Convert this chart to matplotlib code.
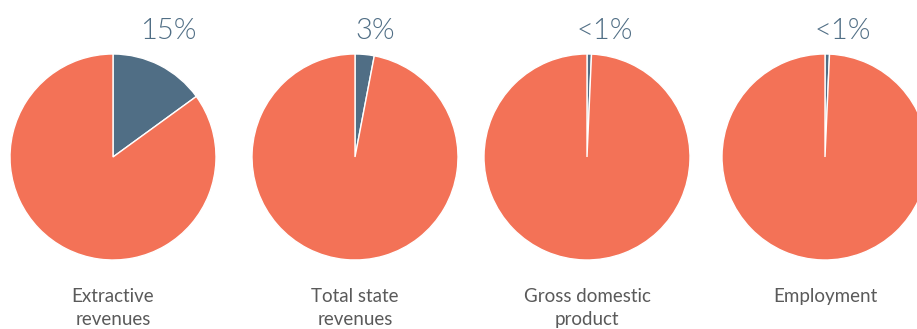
import matplotlib.pyplot as plt
from matplotlib import font_manager

# Share of each indicator that comes from the extractive sector
categories = ['Extractive\nrevenues', 'Total state\nrevenues', 'Gross domestic\nproduct', 'Employment']
shares = [15, 3, 0.7, 0.7]
share_labels = ['15%', '3%', '<1%', '<1%']

blue = '#506e85'
coral = '#f37257'

# use Lato Light for the big percentages if the file is there
light_files = [f for f in font_manager.findSystemFonts() if f.endswith('Lato-Light.ttf')]
if light_files:
    pct_font = dict(fontproperties=font_manager.FontProperties(fname=light_files[0], size=21))
else:
    pct_font = dict(family='Lato', fontsize=21)

W, H = 917, 329
fig = plt.figure(figsize=(W / 100, H / 100), dpi=100)

# pie layout in pixels (centre x, centre y from top, radius)
centers_x = [113, 355, 587, 825]
cy = 157
r = 103
label_dx = [55, 20, 18, 18]

for i, (cat, val, lab) in enumerate(zip(categories, shares, share_labels)):
    cx = centers_x[i]
    ax = fig.add_axes([(cx - r) / W, (H - cy - r) / H, 2 * r / W, 2 * r / H])
    ax.pie([val, 100 - val], colors=[blue, coral], startangle=90, counterclock=False,
           wedgeprops=dict(edgecolor='white', linewidth=1))
    ax.set_xlim(-1, 1)
    ax.set_ylim(-1, 1)
    ax.set_aspect('equal')
    ax.axis('off')

    fig.text((cx + label_dx[i]) / W, 1 - 31 / H, lab, ha='center', va='center',
             color=blue, **pct_font)
    fig.text(cx / W, 1 - 288 / H, cat, ha='center', va='top', fontsize=13.5,
             family='Lato', color='#5a5a5a', linespacing=1.45)

fig.savefig('out.png', dpi=100)
